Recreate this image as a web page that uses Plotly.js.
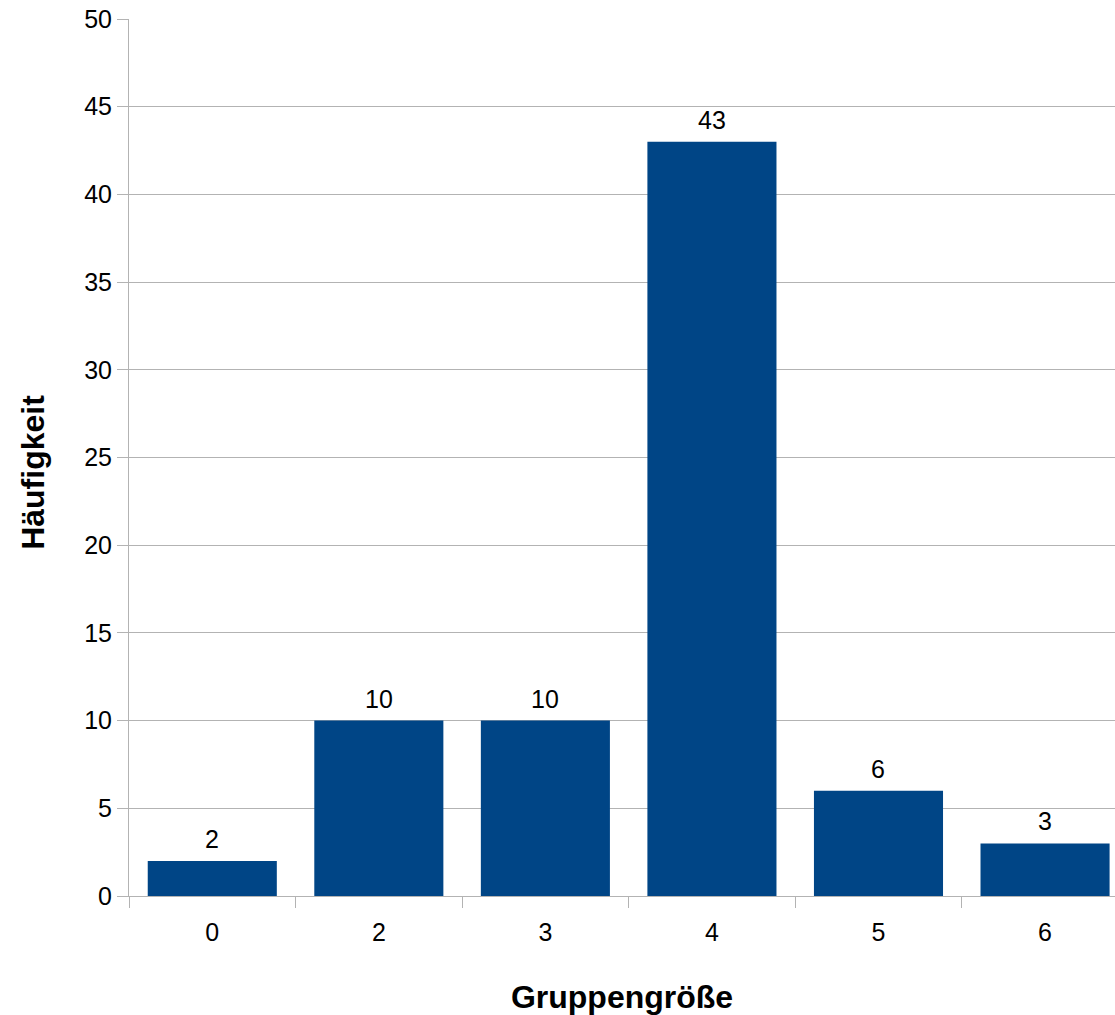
<!DOCTYPE html>
<html>
<head>
<meta charset="utf-8">
<script src="https://cdn.plot.ly/plotly-3.0.1.min.js"></script>
<style>html,body{margin:0;padding:0;background:#fff;}#chart{width:1115px;height:1015px;}</style>
</head>
<body>
<div id="chart"></div>
<script>
const categories = ["0", "2", "3", "4", "5", "6"];
const counts = [2, 10, 10, 43, 6, 3];
const xTitle = "Gruppengröße";
const yTitle = "Häufigkeit";

const font = "Liberation Sans, Arial, sans-serif";

const trace = {
  type: "bar",
  x: categories,
  y: counts,
  marker: {color: "#004586"},
  hoverinfo: "skip"
};

const annotations = categories.map((c, i) => ({
  x: i, y: counts[i], xref: "x", yref: "y",
  text: String(counts[i]), showarrow: false,
  yanchor: "bottom", yshift: 6,
  font: {family: font, size: 25, color: "#000"}
}));

annotations.push({
  xref: "paper", yref: "paper",
  x: -0.0975, y: 0.4835,
  xanchor: "center", yanchor: "middle",
  text: yTitle, textangle: -90, showarrow: false,
  font: {family: font, size: 32, color: "#000", weight: "bold"}
});

const layout = {
  width: 1115, height: 1015,
  margin: {l: 129, r: 0, t: 19, b: 119, pad: 0},
  paper_bgcolor: "#fff", plot_bgcolor: "#fff",
  showlegend: false,
  bargap: 0.225,
  font: {family: font, size: 25, color: "#000"},
  xaxis: {
    type: "category",
    range: [-0.5, 5.42],
    tickson: "boundaries",
    ticks: "outside", ticklen: 11, tickcolor: "#b3b3b3", tickwidth: 1,
    ticklabelstandoff: 14,
    showline: true, linecolor: "#b3b3b3", linewidth: 1,
    showgrid: false, zeroline: false,
    tickfont: {family: font, size: 25, color: "#000"},
    title: {text: xTitle, font: {family: font, size: 32, color: "#000", weight: "bold"}, standoff: 41}
  },
  yaxis: {
    range: [0, 50], dtick: 5,
    ticks: "outside", ticklen: 11, tickcolor: "#b3b3b3", tickwidth: 1,
    showline: true, linecolor: "#b3b3b3", linewidth: 1,
    showgrid: true, gridcolor: "#b3b3b3", gridwidth: 1,
    zeroline: false,
    tickfont: {family: font, size: 25, color: "#000"}
  },
  annotations: annotations
};

Plotly.newPlot("chart", [trace], layout, {staticPlot: true, displayModeBar: false});
</script>
</body>
</html>
